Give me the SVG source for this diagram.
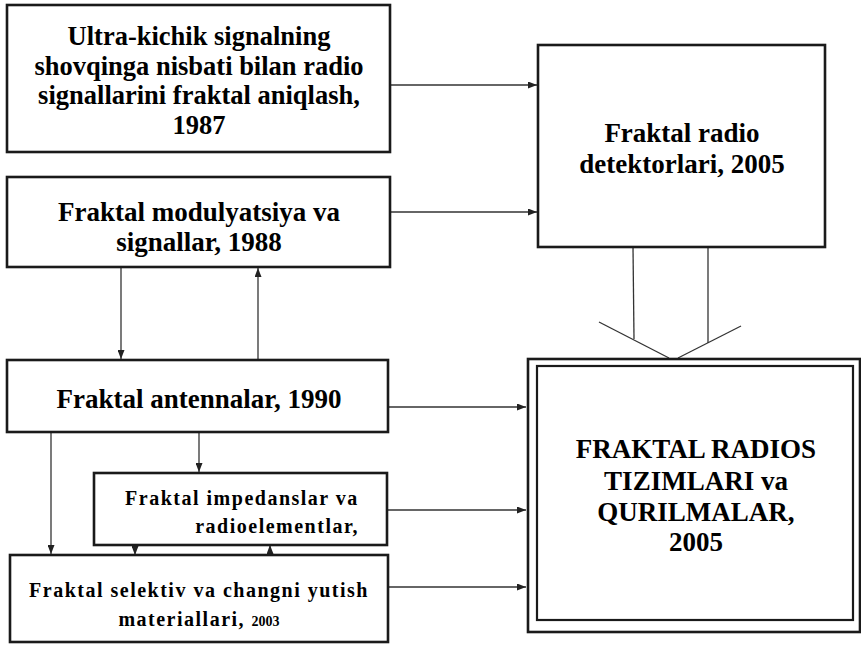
<svg xmlns="http://www.w3.org/2000/svg" width="861" height="650" viewBox="0 0 861 650">
<defs>
<marker id="ah" viewBox="0 0 9 7" refX="9" refY="3.5" markerWidth="9" markerHeight="7" markerUnits="userSpaceOnUse" orient="auto">
<path d="M0,0 L9,3.5 L0,7 Z" fill="#222"/>
</marker>
</defs>
<rect width="861" height="650" fill="#fff"/>
<g id="connectors" stroke="#333" stroke-width="1.3" fill="none">
<line x1="390" y1="85" x2="537" y2="85" marker-end="url(#ah)"/>
<line x1="390" y1="212" x2="537" y2="212" marker-end="url(#ah)"/>
<line x1="388" y1="407" x2="526" y2="407" marker-end="url(#ah)"/>
<line x1="387" y1="510" x2="526" y2="510" marker-end="url(#ah)"/>
<line x1="388" y1="587" x2="526" y2="587" marker-end="url(#ah)"/>
<line x1="121" y1="267" x2="121" y2="359" marker-end="url(#ah)"/>
<line x1="258" y1="360" x2="258" y2="268" marker-end="url(#ah)"/>
<line x1="51" y1="432" x2="51" y2="554" marker-end="url(#ah)"/>
<line x1="199" y1="432" x2="199" y2="472" marker-end="url(#ah)"/>
<line x1="135" y1="545" x2="135" y2="555" marker-end="url(#ah)"/>
<line x1="270" y1="556" x2="270" y2="545" marker-end="url(#ah)"/>
<line x1="633" y1="247" x2="634" y2="339"/>
<line x1="708" y1="247" x2="708" y2="343"/>
<line x1="599" y1="322" x2="669" y2="358"/>
<line x1="741" y1="326" x2="678" y2="358"/>
</g>
<g id="n1">
<rect x="7" y="5" width="383" height="147" fill="#fff" stroke="#1a1a1a" stroke-width="2.6"/>
<text x="199" y="45" font-size="26.5" font-weight="bold" font-family="Liberation Serif" text-anchor="middle">Ultra-kichik signalning</text>
<text x="199" y="74.5" font-size="26.5" font-weight="bold" font-family="Liberation Serif" text-anchor="middle">shovqinga nisbati bilan radio</text>
<text x="199" y="104" font-size="26.5" font-weight="bold" font-family="Liberation Serif" text-anchor="middle">signallarini fraktal aniqlash,</text>
<text x="199" y="133.5" font-size="26.5" font-weight="bold" font-family="Liberation Serif" text-anchor="middle">1987</text>
</g>
<g id="n2">
<rect x="7" y="177" width="383" height="90" fill="#fff" stroke="#1a1a1a" stroke-width="2.6"/>
<text x="199" y="221" font-size="27" font-weight="bold" font-family="Liberation Serif" text-anchor="middle">Fraktal modulyatsiya va</text>
<text x="199" y="251" font-size="27" font-weight="bold" font-family="Liberation Serif" text-anchor="middle">signallar, 1988</text>
</g>
<g id="n3">
<rect x="7" y="360" width="381" height="72" fill="#fff" stroke="#1a1a1a" stroke-width="2.6"/>
<text x="199" y="408" font-size="27" font-weight="bold" font-family="Liberation Serif" text-anchor="middle">Fraktal antennalar, 1990</text>
</g>
<g id="n4">
<rect x="94" y="473" width="293" height="72" fill="#fff" stroke="#1a1a1a" stroke-width="2.6"/>
<text x="242" y="505" font-size="20" font-weight="bold" font-family="Liberation Serif" text-anchor="middle" letter-spacing="1.5">Fraktal impedanslar va</text>
<text x="359" y="533" font-size="20" font-weight="bold" font-family="Liberation Serif" text-anchor="end" letter-spacing="1.5">radioelementlar,</text>
</g>
<g id="n5">
<rect x="10" y="555" width="378" height="87" fill="#fff" stroke="#1a1a1a" stroke-width="2.6"/>
<text x="199" y="597" font-size="20" font-weight="bold" font-family="Liberation Serif" text-anchor="middle" letter-spacing="1.5">Fraktal selektiv va changni yutish</text>
<text x="199" y="626" font-size="20" font-weight="bold" font-family="Liberation Serif" text-anchor="middle" letter-spacing="1.5">materiallari, <tspan font-size="14" letter-spacing="0">2003</tspan></text>
</g>
<g id="n6">
<rect x="538" y="45" width="287" height="202" fill="#fff" stroke="#1a1a1a" stroke-width="2.6"/>
<text x="682" y="142" font-size="27" font-weight="bold" font-family="Liberation Serif" text-anchor="middle">Fraktal radio</text>
<text x="682" y="173" font-size="27" font-weight="bold" font-family="Liberation Serif" text-anchor="middle">detektorlari, 2005</text>
</g>
<g id="n7">
<rect x="528" y="359" width="332" height="273" fill="#fff" stroke="#1a1a1a" stroke-width="2.6"/>
<rect x="537" y="366" width="316" height="254" fill="#fff" stroke="#1a1a1a" stroke-width="2.2"/>
<text x="696" y="458" font-size="27" font-weight="bold" font-family="Liberation Serif" text-anchor="middle">FRAKTAL RADIOS</text>
<text x="696" y="490" font-size="27" font-weight="bold" font-family="Liberation Serif" text-anchor="middle">TIZIMLARI va</text>
<text x="696" y="521" font-size="27" font-weight="bold" font-family="Liberation Serif" text-anchor="middle">QURILMALAR,</text>
<text x="696" y="551" font-size="27" font-weight="bold" font-family="Liberation Serif" text-anchor="middle">2005</text>
</g>
</svg>
